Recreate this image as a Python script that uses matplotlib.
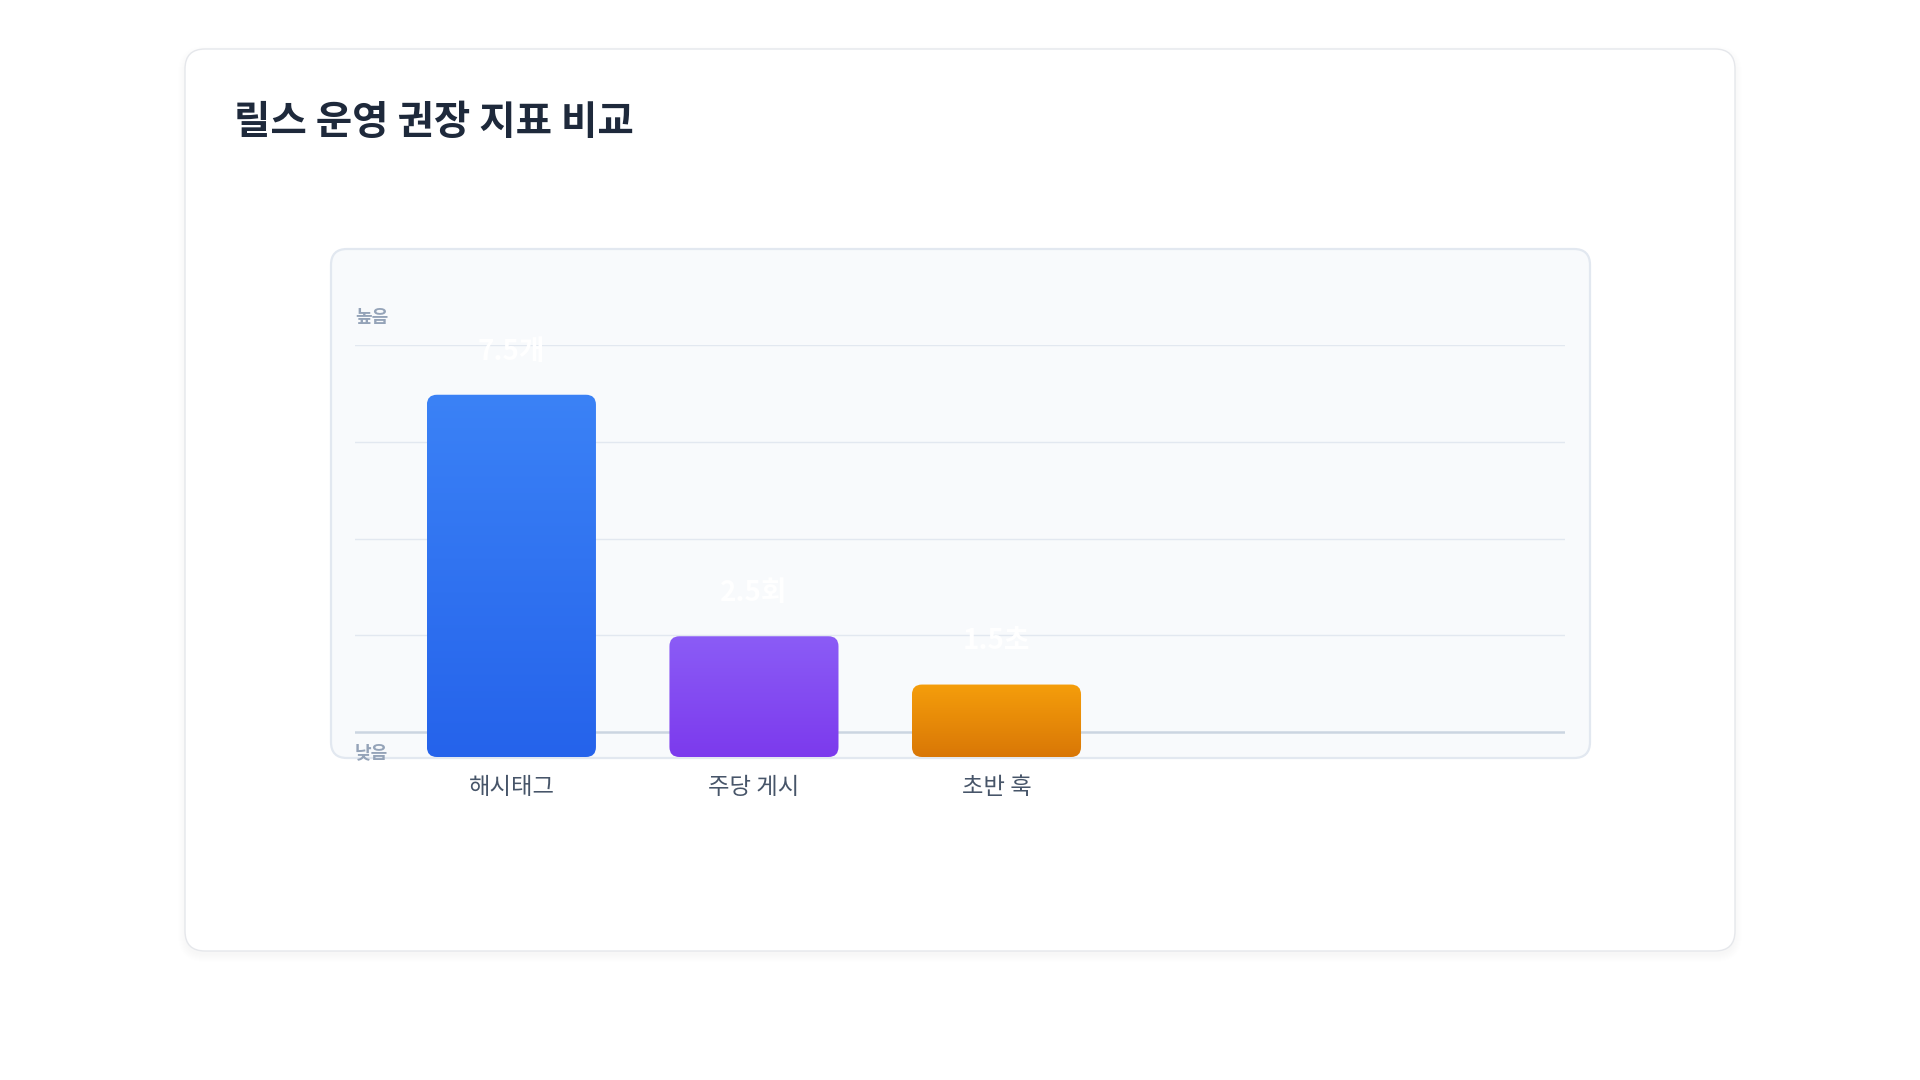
import matplotlib
matplotlib.use('Agg')
import matplotlib.pyplot as plt
import numpy as np
from matplotlib.patches import FancyBboxPatch
from matplotlib.colors import LinearSegmentedColormap

plt.rcParams['font.family'] = ['Noto Sans CJK KR', 'DejaVu Sans']

title = '릴스 운영 권장 지표 비교'
categories = ['해시태그', '주당 게시', '초반 훅']
values = [7.5, 2.5, 1.5]
value_labels = ['7.5개', '2.5회', '1.5초']
top_colors = ['#3b82f6', '#8b5cf6', '#f59e0b']
bottom_colors = ['#2563eb', '#7c3aed', '#d97706']

W, H = 1920, 1080
fig = plt.figure(figsize=(W / 100, H / 100), dpi=100)
fig.patch.set_facecolor('white')

# background layer in pixel coords
bg = fig.add_axes([0, 0, 1, 1])
bg.set_xlim(0, W)
bg.set_ylim(H, 0)
bg.axis('off')

# soft card shadow
for i in range(8):
    bg.add_patch(FancyBboxPatch((185 - i, 49 - i + 4), 1550 + 2 * i, 902 + 2 * i,
                                boxstyle=f'round,pad=0,rounding_size={20 + i}',
                                fc='black', ec='none', alpha=0.005))
bg.add_patch(FancyBboxPatch((185, 49), 1550, 902, boxstyle='round,pad=0,rounding_size=20',
                            fc='white', ec='#e5e7eb', lw=1))
bg.add_patch(FancyBboxPatch((331, 249), 1259, 509, boxstyle='round,pad=0,rounding_size=16',
                            fc='#f8fafc', ec='#e2e8f0', lw=1.6))
bg.text(234, 123, title, fontsize=28.5, fontweight='bold', color='#1e293b', va='center', ha='left')

# chart axes
ax_l, ax_r, ax_t, ax_b = 355, 1565, 345, 757
ax = fig.add_axes([ax_l / W, (H - ax_b) / H, (ax_r - ax_l) / W, (ax_b - ax_t) / H])
ax.patch.set_alpha(0)
for s in ax.spines.values():
    s.set_visible(False)

x = np.arange(len(categories))
xlim = (-0.645, 4.344)
ylim = (0, 8.53)

base_frac = 25 / (ax_b - ax_t)
for k, f in enumerate(np.linspace(base_frac, 1, 5)):
    if k == 0:
        ax.plot([0, 1], [f, f], transform=ax.transAxes, color='#cbd5e1', lw=1.8, zorder=1)
    else:
        ax.plot([0, 1], [f, f], transform=ax.transAxes, color='#e2e8f0', lw=1, zorder=1)

rects = ax.bar(x, values, width=0.697, color='none', zorder=2)
ax.set_xlim(*xlim)
ax.set_ylim(*ylim)
ax.set_autoscale_on(False)

xpx = (ax_r - ax_l) / (xlim[1] - xlim[0])
ypx = (ax_b - ax_t) / (ylim[1] - ylim[0])
asp = xpx / ypx
r = 10 / xpx

grad = np.linspace(0, 1, 256).reshape(-1, 1)
for rect, c0, c1 in zip(rects, bottom_colors, top_colors):
    x0, w, h = rect.get_x(), rect.get_width(), rect.get_height()
    patch = FancyBboxPatch((x0, 0), w, h, boxstyle=f'round,pad=0,rounding_size={r}',
                           mutation_aspect=asp, fc='none', ec='none', zorder=3)
    ax.add_patch(patch)
    cmap = LinearSegmentedColormap.from_list('g', [c0, c1])
    im = ax.imshow(grad, extent=(x0, x0 + w, 0, h), origin='lower', aspect='auto',
                   cmap=cmap, zorder=3, interpolation='bilinear')
    im.set_clip_path(patch)

ax.set_xlim(*xlim)
ax.set_ylim(*ylim)

for xi, v, lbl in zip(x, values, value_labels):
    ax.annotate(lbl, (xi, v), xytext=(0, 31), textcoords='offset points', ha='center', va='center',
                color='white', fontsize=20, fontweight='bold', annotation_clip=False, zorder=4)

ax.set_xticks(x, categories)
ax.set_yticks([])
ax.tick_params(axis='x', length=0, pad=14, labelsize=16.8, labelcolor='#475569')

ax.text(0, (ax_b - 317) / (ax_b - ax_t), '높음', transform=ax.transAxes, fontsize=13,
        fontweight='bold', color='#94a3b8', ha='left', va='center')
ax.text(0, (ax_b - 753) / (ax_b - ax_t), '낮음', transform=ax.transAxes, fontsize=13,
        fontweight='bold', color='#94a3b8', ha='left', va='center')

fig.savefig('out.png', dpi=100)
